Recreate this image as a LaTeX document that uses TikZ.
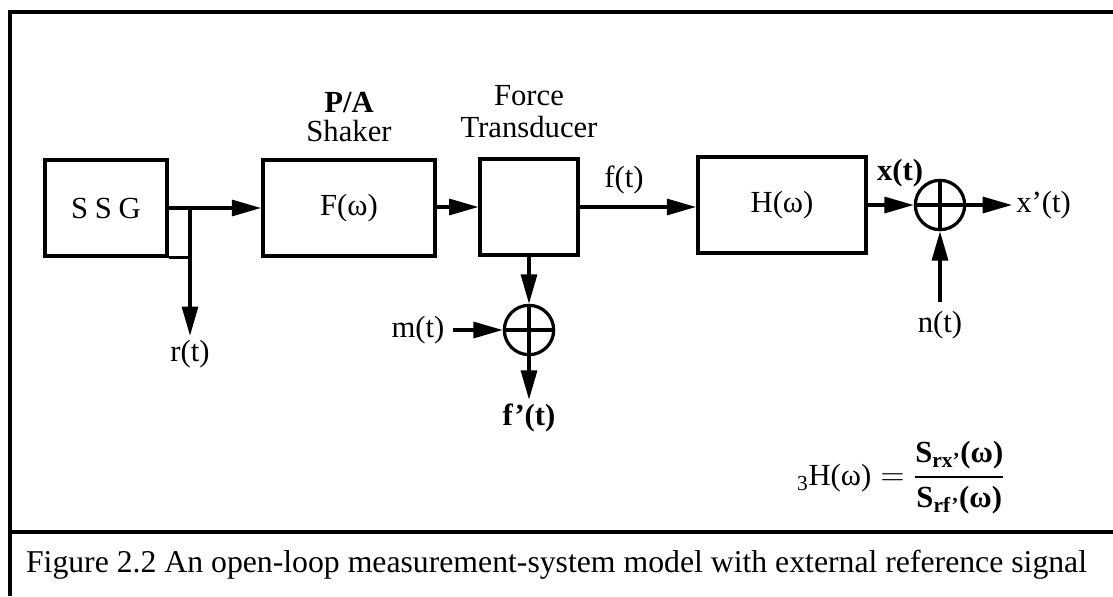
\documentclass[tikz,border=0pt]{standalone}
\usepackage{amsmath}
\usepackage{fontspec}
\setmainfont{Liberation Serif}
\usetikzlibrary{arrows.meta,positioning}

\begin{document}
\begin{tikzpicture}[x=0.75pt,y=-0.75pt,line width=2.4pt,font=\fontsize{23}{26}\selectfont,
 blk/.style={draw,line width=2.8pt,minimum height=72pt,inner sep=0pt},
 sumnode/.style={draw,circle,line width=2.4pt,minimum size=37pt,inner sep=0pt},
 sig/.style={-{Triangle[length=22pt,width=12pt]}},
 lbl/.style={inner sep=2pt}]
 \useasboundingbox (0,0) rectangle (1113,596);
 \draw[line width=3.2pt] (10,596) -- (10,12) -- (1113,12) (10,532) -- (1113,532);
 \node[blk,minimum width=92pt] (ssg) at (106,208) {S\kern5pt S\kern5pt G};
 \node[blk,minimum width=129pt] (fw) at (349,208) {F(ω)};
 \node[blk,minimum width=73pt] (ft) at (529,207) {};
 \node[blk,minimum width=126pt] (hw) at (782,205) {H(ω)};
 \node[sumnode] (sx) at (940,205) {};
 \node[sumnode] (sf) at (529,330) {};
 \foreach \s in {sx,sf} \draw (\s.north) -- (\s.south) (\s.west) -- (\s.east);
 \node[lbl] (pa) at (349,103) {\textbf{P/A}}; \node[lbl] (shk) at (349,131) {Shaker};
 \node[lbl] (frc) at (529,96) {Force}; \node[lbl] (trd) at (529,127) {Transducer};
 \coordinate (br) at (190,208);
 \node[lbl] (rt) at (190,354) {r(t)};
 \node[lbl,inner sep=5pt] (mt) at (418,330) {m(t)};
 \node[lbl] (fp) at (529,418) {\textbf{f'(t)}};
 \node[lbl] (fl) at (624,180) {f(t)};
 \node[lbl] (xl) at (900,173) {\textbf{x(t)}};
 \node[lbl,anchor=west] (xp) at (1012,205) {x’(t)};
 \node[lbl,inner sep=6pt] (nt) at (940,325) {n(t)};
 \draw (ssg.east) -- (br) (ssg.south east) -- (ssg.south east -| br);
 \draw[sig] (br) -- (fw.west);
 \draw[sig] (br) -- (rt.north);
 \draw[sig] (fw.east |- ft.west) -- (ft.west);
 \draw[sig] (ft.east) -- (ft.east -| hw.west);
 \draw[sig] (hw.east) -- (sx.west);
 \draw[sig] (sx.east) -- (xp.west);
 \draw[sig] (nt.north) -- (sx.south);
 \draw[sig] (ft.south) -- (sf.north);
 \draw[sig] (mt.east) -- (sf.west);
 \draw[sig] (sf.south) -- (fp.north);
 \node (frm) at (901,478) {${}_{\text{3}}\text{H(ω)} = \dfrac{\textbf{S}_{\textbf{rx'}}\textbf{(ω)}}{\textbf{S}_{\textbf{rf'}}\textbf{(ω)}}$};
 \node[anchor=west,font=\fontsize{23.8}{27}\selectfont] (cap) at (20,565) {Figure 2.2 An open-loop measurement-system model with external reference signal};
\end{tikzpicture}
\end{document}
